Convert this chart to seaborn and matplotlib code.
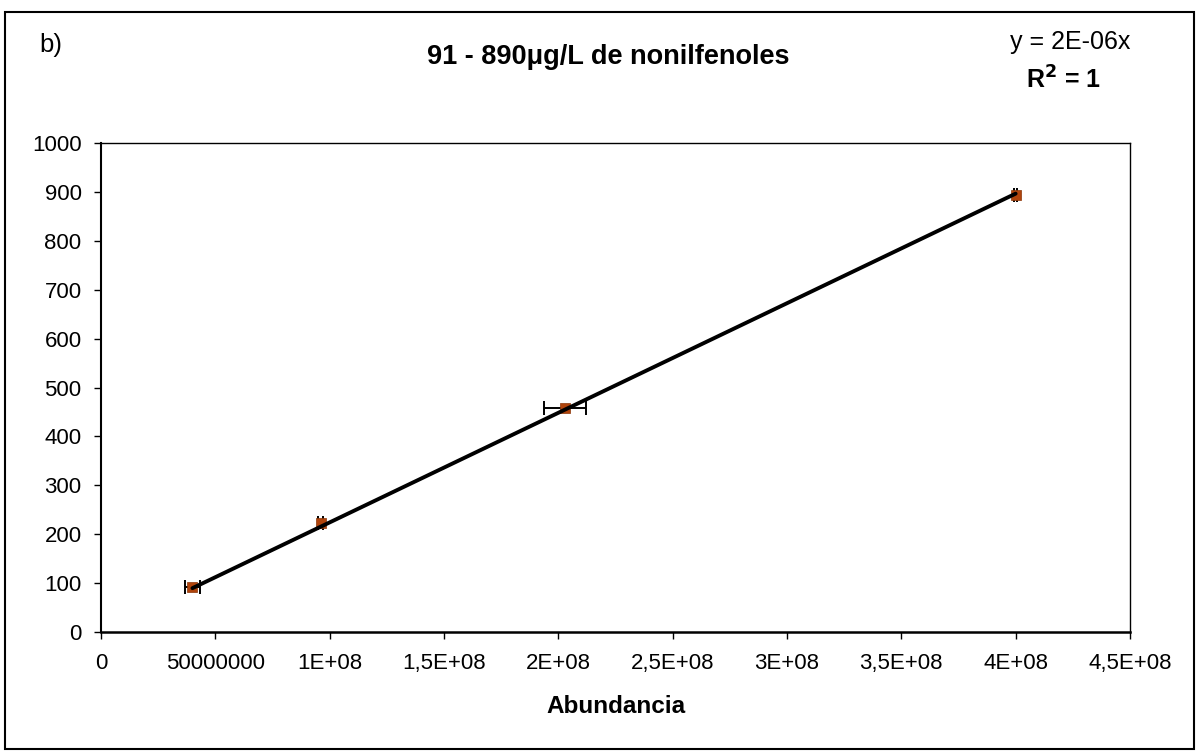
import numpy as np
import pandas as pd
import matplotlib
matplotlib.use("Agg")
import matplotlib.pyplot as plt
from matplotlib.patches import Rectangle
import seaborn as sns

# Calibration data: abundance vs. concentration (µg/L)
abundancia = [4.0e7, 9.6e7, 2.03e8, 4.0e8]
concentracion = [93, 222, 458, 893]
error_abundancia = [3.4e6, 1.0e6, 9.2e6, 0.5e6]

x_ticks = [0, 5e7, 1e8, 1.5e8, 2e8, 2.5e8, 3e8, 3.5e8, 4e8, 4.5e8]
x_tick_labels = ["0", "50000000", "1E+08", "1,5E+08", "2E+08", "2,5E+08",
                 "3E+08", "3,5E+08", "4E+08", "4,5E+08"]
y_ticks = list(range(0, 1001, 100))

titulo = "91 - 890\u03bcg/L de nonilfenoles"
etiqueta_x = "Abundancia"

sns.set_theme(style="white")
plt.rcParams["font.family"] = ["Liberation Sans", "DejaVu Sans"]

df = pd.DataFrame({"x": abundancia, "y": concentracion})

# Linear trend forced through the origin
xa = np.array(abundancia)
ya = np.array(concentracion)
pendiente = float((xa * ya).sum() / (xa * xa).sum())
tendencia = pd.DataFrame({"x": [xa.min(), xa.max()]})
tendencia["y"] = pendiente * tendencia["x"]

fig = plt.figure(figsize=(11.98, 7.54), dpi=100)
ax = fig.add_axes([0.0843, 0.1618, 0.8589, 0.6485])

ax.errorbar(abundancia, concentracion, xerr=error_abundancia, fmt="none",
            ecolor="black", elinewidth=1.4, capsize=4.7, capthick=1.4, zorder=2)
sns.scatterplot(data=df, x="x", y="y", ax=ax, marker="s", s=50,
                color="#B0440C", edgecolor="#8a3508", linewidth=0.5, zorder=3)
sns.lineplot(data=tendencia, x="x", y="y", ax=ax, color="black",
             linewidth=2.8, zorder=4)

ax.set_xlim(0, 4.5e8)
ax.set_ylim(0, 1000)
ax.set_xticks(x_ticks)
ax.set_xticklabels(x_tick_labels)
ax.set_yticks(y_ticks)
ax.tick_params(axis="both", direction="out", length=5, width=1,
               color="black", labelsize=16, labelcolor="black")
ax.tick_params(axis="x", pad=10)
ax.tick_params(axis="y", pad=9)
ax.xaxis.set_ticks_position("bottom")
ax.yaxis.set_ticks_position("left")
for s in ax.spines.values():
    s.set_visible(True)
    s.set_color("black")
    s.set_linewidth(1.0)
ax.spines["bottom"].set_linewidth(1.8)
ax.spines["left"].set_linewidth(1.5)
ax.set_xlabel(etiqueta_x, fontsize=17.5, fontweight="bold", labelpad=15,
              color="black")
ax.set_ylabel("")
ax.grid(False)

fig.text(0.508, 0.925, titulo, ha="center", va="center",
         fontsize=19.5, fontweight="bold", color="black")
fig.text(0.033, 0.94, "b)", ha="left", va="center", fontsize=18.5,
         color="black")
fig.text(0.893, 0.944, "y = 2E-06x", ha="center", va="center", fontsize=18,
         color="black")
fig.text(0.888, 0.894, "R$^{\\mathbf{2}}$ = 1", ha="center", va="center",
         fontsize=18, fontweight="bold", color="black")

# Outer chart frame
fig.patches.append(Rectangle((0.004, 0.006), 0.993, 0.978,
                             transform=fig.transFigure, fill=False,
                             edgecolor="black", linewidth=1.5))

fig.savefig("out.png", dpi=100)
